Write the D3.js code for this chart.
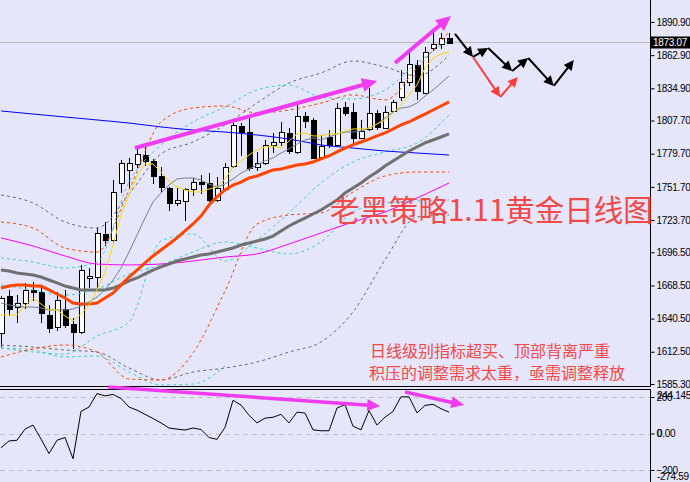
<!DOCTYPE html>
<html>
<head>
<meta charset="utf-8">
<script src="https://d3js.org/d3.v7.min.js"></script>
<style>
  html, body { margin: 0; padding: 0; background: #e6e6fa; overflow: hidden; }
  svg { display: block; }
  .axis text { font-family: "Liberation Sans", Arial, sans-serif; font-size: 10px; fill: #000; letter-spacing: -0.3px; }
  .axis line { stroke: #000; }
  .axis path { display: none; }
</style>
</head>
<body>
<div id="chart"></div>
<script>
// daily candles (gold), oldest first
const open  = [1628.4,1659.6,1650.3,1653.7,1664.7,1663.0,1643.5,1633.4,1648.6,1636.0,1629.2,1674.8,1675.6,1711.9,1706.9,1755.0,1766.0,1771.0,1778.6,1773.6,1760.9,1750.8,1738.1,1739.8,1749.9,1755.8,1755.0,1740.6,1749.9,1769.3,1803.1,1798.0,1768.5,1771.9,1787.1,1789.6,1797.2,1781.2,1811.6,1808.2,1776.9,1793.8,1787.1,1819.2,1814.9,1793.0,1800.6,1814.1,1801.4,1815.8,1827.6,1840.3,1854.6,1831.0,1869.0,1872.3,1877.4];
const high  = [1659.6,1664.7,1660.4,1670.6,1671.4,1667.2,1652.0,1663.0,1664.7,1641.0,1685.8,1683.2,1717.0,1722.1,1757.5,1774.4,1776.1,1785.4,1785.4,1775.3,1768.5,1751.6,1750.8,1751.0,1759.2,1761.7,1763.4,1760.1,1771.9,1805.6,1805.6,1810.7,1781.2,1791.3,1797.2,1806.5,1801.4,1822.5,1814.9,1809.9,1795.5,1799.7,1822.5,1823.4,1822.5,1808.2,1835.2,1816.6,1820.0,1825.1,1850.4,1865.6,1858.8,1869.8,1882.5,1881.6,1881.6];
const low   = [1617.4,1643.5,1637.6,1649.5,1656.2,1637.6,1629.2,1630.9,1633.4,1615.7,1628.4,1667.2,1667.2,1702.6,1705.5,1747.4,1751.6,1768.5,1770.2,1755.0,1747.4,1732.2,1736.4,1723.8,1744.9,1746.5,1740.0,1739.8,1749.0,1768.5,1778.6,1766.0,1766.0,1771.0,1781.2,1787.1,1780.3,1780.5,1802.3,1776.1,1776.9,1785.4,1787.1,1812.4,1787.1,1793.0,1799.7,1800.6,1801.4,1814.9,1825.1,1837.7,1825.9,1831.0,1867.3,1869.0,1873.07];
const close = [1657.9,1648.6,1653.7,1664.7,1663.0,1645.2,1632.6,1656.2,1635.1,1629.2,1681.5,1676.5,1712.8,1706.9,1747.4,1771.9,1771.9,1779.5,1773.6,1760.9,1751.6,1738.1,1740.6,1749.9,1755.8,1754.1,1740.6,1750.8,1768.5,1804.0,1798.0,1767.7,1771.9,1787.1,1789.6,1798.0,1782.0,1811.6,1807.3,1776.1,1786.2,1787.1,1818.3,1814.1,1793.0,1798.9,1814.1,1802.3,1814.9,1823.4,1840.3,1855.5,1832.7,1865.6,1872.3,1877.4,1873.07];
const lastPrice = 1873.07;

// moving averages, one value per candle
const ma5  = [1643.6,1643.6,1643.6,1651.1,1657.9,1652.8,1647.8,1647.8,1642.7,1638.5,1644.4,1652.0,1664.7,1679.9,1702.6,1728.0,1744.9,1760.9,1771.0,1771.0,1764.3,1756.7,1751.6,1749.1,1747.4,1747.4,1749.9,1751.6,1758.4,1768.5,1773.6,1778.6,1782.9,1785.4,1786.2,1784.5,1790.4,1796.4,1797.2,1794.7,1794.7,1796.4,1796.4,1798.9,1800.6,1800.6,1801.4,1804.8,1808.2,1814.1,1820.8,1829.3,1837.7,1852.1,1860.5,1863.9,1865.6];
const ma10 = [1653.7,1652.0,1651.1,1650.3,1650.3,1649.5,1647.8,1647.8,1647.8,1648.6,1651.1,1654.5,1658.7,1664.7,1673.1,1683.2,1696.7,1711.1,1725.4,1739.0,1746.5,1753.3,1758.4,1759.2,1759.2,1757.5,1754.1,1751.6,1754.1,1758.4,1763.4,1766.8,1770.2,1773.6,1776.1,1780.3,1783.7,1787.9,1791.3,1793.0,1791.3,1793.8,1796.4,1798.0,1798.0,1798.9,1801.4,1804.8,1809.9,1814.9,1818.3,1819.2,1822.5,1828.4,1833.5,1839.4,1845.3];
const ma20 = [1666.3,1668.0,1668.9,1668.9,1668.0,1668.0,1664.7,1661.3,1657.9,1653.7,1652.8,1652.8,1653.7,1657.9,1662.1,1668.9,1675.6,1681.5,1687.5,1693.4,1698.4,1703.5,1708.6,1714.5,1720.4,1727.1,1736.4,1743.2,1749.1,1753.3,1755.8,1759.2,1760.9,1763.4,1766.0,1766.8,1768.5,1770.2,1771.0,1772.7,1775.3,1777.8,1781.2,1784.5,1787.1,1789.6,1792.1,1794.7,1797.2,1800.6,1804.0,1806.5,1809.9,1813.2,1816.6,1820.0,1823.4];
const ma60 = [1681.5,1680.7,1679.0,1678.2,1677.3,1675.6,1673.1,1670.6,1668.0,1666.3,1664.7,1664.7,1664.7,1664.7,1666.3,1668.9,1672.3,1674.8,1678.2,1681.5,1684.1,1686.6,1689.1,1690.8,1692.5,1694.2,1695.1,1696.7,1698.4,1700.1,1702.6,1704.3,1706.0,1707.7,1710.2,1714.5,1718.7,1722.1,1725.4,1728.8,1732.2,1736.4,1740.6,1746.5,1750.8,1755.0,1760.1,1764.3,1769.3,1773.6,1777.8,1782.0,1785.4,1788.8,1791.3,1793.8,1796.4];

// smoother lines, read every 4th candle
const sparseIdx = d3.range(0, 57, 4);
const ma120   = [1708.6,1701.8,1693.4,1686.6,1685.8,1686.6,1689.1,1692.5,1695.1,1703.5,1712.8,1722.1,1730.5,1742.3,1755.0];
const ma200   = [1815.8,1813.2,1810.7,1808.2,1805.6,1802.3,1799.7,1798.0,1795.5,1792.1,1787.1,1784.5,1782.0,1780.3,1778.6];
const bbOrUp  = [1722.1,1717.0,1700.1,1696.7,1749.1,1806.5,1818.3,1820.0,1814.1,1816.6,1822.5,1829.3,1825.1,1852.1,1882.5];
const bbOrLo  = [1608.1,1614.9,1618.2,1612.3,1589.5,1588.7,1611.5,1663.8,1720.4,1728.0,1729.7,1747.4,1760.9,1764.3,1764.3];
const bbCyUp  = [1691.7,1688.3,1683.2,1688.3,1755.8,1787.1,1806.5,1819.2,1833.5,1837.7,1827.6,1825.9,1833.5,1856.3,1875.7];
const bbCyLo  = [1615.7,1612.3,1610.6,1625.8,1637.6,1706.0,1711.9,1689.1,1706.9,1729.7,1755.0,1772.7,1781.2,1788.8,1812.4];
const bbGrUp  = [1744.9,1738.1,1722.1,1717.0,1745.7,1779.5,1789.6,1804.0,1822.5,1839.4,1847.9,1858.0,1852.9,1845.3,1863.1];
const bbGrLo  = [1618.2,1616.5,1614.0,1612.3,1598.8,1588.7,1595.4,1598.8,1603.9,1612.3,1620.8,1646.1,1690.0,1726.3,1728.0];
const cyanMid = [1668.9,1664.7,1660.4,1665.5,1678.2,1685.8,1696.7,1705.2,1700.1,1695.1,1705.2,1730.5,1738.1,1739.8,1740.6];
const cyanOut = [1615.7,1614.0,1608.1,1608.9,1595.4,1584.5,1585.3,1600.5,null,null,null,null,null,null,null];

// oscillator in the lower window
const cci = [-78,-41,-37,24,46,-30,-110,-37,-22,-138,121,145,219,206,214,192,145,128,105,82,58,30,24,19,30,22,-22,-32,33,182,156,100,58,84,89,105,58,117,112,20,15,15,140,158,40,20,126,46,89,121,201,201,113,154,160,136,117];

const priceTicks = [1890.9,1862.9,1834.9,1807.7,1779.7,1751.7,1723.7,1696.5,1668.5,1640.5,1612.5,1585.3];
const cciTicks = [200, 0, -200];

// hand drawn notes: [candle index, price or cci value]
const trendArrows = [[[16.75,1784.5],[47,1841.1]], [[49.25,1856.3],[56.25,1896.0]]];
const pathBlack = [[56.75,1880.8],[59,1861.4],[60.9,1869.0],[63.9,1849.5],[65.9,1860.5],[69.1,1836.9],[71.6,1858.8]];
const pathRed = [[59,1861.4],[62.4,1827.6],[64.6,1844.5]];
const cciArrows = [[[13.4,255],[47.4,151]], [[50.5,227],[57.9,156]]];

const title = "老黑策略1.11黄金日线图";
const note1 = "日线级别指标超买、顶部背离严重";
const note2 = "积压的调整需求太重，亟需调整释放";

const W = 690, H = 482, plotR = 650;

const svg = d3.select('#chart').append('svg')
    .attr('width', W).attr('height', H);
svg.append('rect').attr('width', W).attr('height', H).attr('fill', '#e6e6fa');

const x = d3.scaleLinear().domain([0, 81]).range([1, 649]);
const y = d3.scaleLinear().domain([1585.3, 1890.9]).range([384, 22]);
const yc = d3.scaleLinear().domain([-200, 200]).range([470, 397]);

const defs = svg.append('defs');
defs.append('clipPath').attr('id', 'clipMain')
    .append('rect').attr('x', 0).attr('y', 0).attr('width', plotR).attr('height', 386);
defs.append('clipPath').attr('id', 'clipInd')
    .append('rect').attr('x', 0).attr('y', 390).attr('width', plotR).attr('height', 92);

// current price line
svg.append('line')
    .attr('x1', 0).attr('x2', plotR)
    .attr('y1', Math.round(y(lastPrice)) - 0.5).attr('y2', Math.round(y(lastPrice)) - 0.5)
    .attr('stroke', '#b8b8b8');

const main = svg.append('g').attr('clip-path', 'url(#clipMain)');

// candles
const candles = main.append('g');
close.forEach((c, i) => {
    const o = open[i];
    const cx = x(i);
    candles.append('line')
        .attr('x1', cx + 0.5).attr('x2', cx + 0.5)
        .attr('y1', Math.round(y(high[i]))).attr('y2', Math.round(y(low[i])) + 1)
        .attr('stroke', '#000');
    const top = Math.round(y(Math.max(o, c)));
    const bot = Math.round(y(Math.min(o, c)));
    candles.append('rect')
        .attr('x', cx - 1.5).attr('width', 5)
        .attr('y', top + 0.5).attr('height', Math.max(1, bot - top))
        .attr('fill', c >= o ? '#fff' : '#000')
        .attr('stroke', '#000');
});

const lineFull = d3.line().x((d, i) => x(i)).y(d => y(d));
const lineSparse = d3.line()
    .defined(d => d != null)
    .x((d, i) => x(sparseIdx[i])).y(d => y(d))
    .curve(d3.curveMonotoneX);

function dashed(arr, color) {
    main.append('path').datum(arr)
        .attr('d', lineSparse)
        .attr('fill', 'none').attr('stroke', color)
        .attr('stroke-width', 1).attr('stroke-dasharray', '3,3');
}
dashed(bbGrUp, '#6a6a6a');
dashed(bbGrLo, '#6a6a6a');
dashed(bbCyUp, '#40d0c8');
dashed(bbCyLo, '#40d0c8');
dashed(cyanMid, '#40d0c8');
dashed(cyanOut, '#40d0c8');
dashed(bbOrUp, '#ff4500');
dashed(bbOrLo, '#ff4500');

function solidSparse(arr, color, w) {
    main.append('path').datum(arr)
        .attr('d', lineSparse)
        .attr('fill', 'none').attr('stroke', color).attr('stroke-width', w);
}
solidSparse(ma200, '#0000ff', 1);
solidSparse(ma120, '#ff00ff', 1);

function solid(arr, color, w) {
    main.append('path').datum(arr)
        .attr('d', lineFull)
        .attr('fill', 'none').attr('stroke', color).attr('stroke-width', w);
}
solid(ma60, '#707070', 3);
solid(ma20, '#ff4500', 3);
solid(ma10, '#708090', 1);
solid(ma5, '#ffd700', 1);

// lower window
svg.append('g').selectAll('line.grid')
    .data(cciTicks).enter().append('line')
    .attr('x1', 0).attr('x2', plotR)
    .attr('y1', d => Math.round(yc(d)) + 0.5).attr('y2', d => Math.round(yc(d)) + 0.5)
    .attr('stroke', '#c0c0c0').attr('stroke-dasharray', '5,4');

svg.append('g').attr('clip-path', 'url(#clipInd)')
    .append('path').datum(cci)
    .attr('d', d3.line().x((d, i) => x(i)).y(d => yc(d)))
    .attr('fill', 'none').attr('stroke', '#000').attr('stroke-width', 1);

// window borders
svg.append('line').attr('x1', 0).attr('x2', plotR).attr('y1', 386.5).attr('y2', 386.5).attr('stroke', '#000');
svg.append('line').attr('x1', 0).attr('x2', plotR).attr('y1', 389.5).attr('y2', 389.5).attr('stroke', '#000');
svg.append('line').attr('x1', plotR + 0.5).attr('x2', plotR + 0.5).attr('y1', 0).attr('y2', 387).attr('stroke', '#000');
svg.append('line').attr('x1', plotR + 0.5).attr('x2', plotR + 0.5).attr('y1', 389).attr('y2', H).attr('stroke', '#000');

// axes
const fmt = d3.format('.2f');
svg.append('g').attr('class', 'axis')
    .attr('transform', `translate(${plotR + 0.5},0)`)
    .call(d3.axisRight(y).tickValues(priceTicks).tickFormat(fmt).tickSize(4).tickPadding(2));

svg.append('g').attr('class', 'axis')
    .attr('transform', `translate(${plotR + 0.5},0)`)
    .call(d3.axisRight(yc).tickValues(cciTicks).tickFormat(d3.format('d')).tickSize(4).tickPadding(2));

const extra = svg.append('g').attr('class', 'axis');
extra.append('text').attr('x', 657).attr('y', yc(200) - 1).attr('dy', '0.32em').text('244.1452');
extra.append('text').attr('x', 657).attr('y', yc(0)).attr('dy', '0.32em').text('0.00');
extra.append('text').attr('x', 657).attr('y', yc(-200) + 7).attr('dy', '0.32em').text('-274.59');

// last price tag
const py = Math.round(y(lastPrice)) - 0.5;
svg.append('rect').attr('x', 651).attr('y', py - 6).attr('width', 39).attr('height', 12).attr('fill', '#000');
svg.append('text').attr('x', 653).attr('y', py).attr('dy', '0.35em')
    .attr('font-family', '"Liberation Sans", Arial, sans-serif').attr('font-size', 10)
    .attr('letter-spacing', '-0.3px').attr('fill', '#fff')
    .text(fmt(lastPrice));

// annotations
const notes = svg.append('g');
function arrow(p1, p2, color, w, hl, hw) {
    const dx = p2[0] - p1[0], dy = p2[1] - p1[1];
    const len = Math.hypot(dx, dy);
    const ux = dx / len, uy = dy / len;
    const bx = p2[0] - ux * hl, by = p2[1] - uy * hl;
    notes.append('line')
        .attr('x1', p1[0]).attr('y1', p1[1])
        .attr('x2', bx + ux * 2).attr('y2', by + uy * 2)
        .attr('stroke', color).attr('stroke-width', w);
    notes.append('path')
        .attr('d', `M${p2[0]},${p2[1]}L${bx - uy * hw},${by + ux * hw}L${bx + uy * hw},${by - ux * hw}Z`)
        .attr('fill', color);
}
const pt = d => [x(d[0]), y(d[1])];
const ptc = d => [x(d[0]), yc(d[1])];

trendArrows.forEach(a => arrow(pt(a[0]), pt(a[1]), '#f03cf0', 4, 15, 7));
cciArrows.forEach(a => arrow(ptc(a[0]), ptc(a[1]), '#f03cf0', 3.5, 13, 6));
d3.pairs(pathBlack).forEach(p => arrow(pt(p[0]), pt(p[1]), '#000', 2, 10, 5));
d3.pairs(pathRed).forEach(p => arrow(pt(p[0]), pt(p[1]), '#ff3c3c', 2, 10, 5));

const cjk = '"Noto Sans CJK SC", "Noto Sans", sans-serif';
notes.append('text').attr('x', 330).attr('y', 221)
    .attr('font-family', cjk).attr('font-size', 29.5)
    .attr('fill', '#f24848').text(title);
notes.append('text').attr('x', 370).attr('y', 357)
    .attr('font-family', cjk).attr('font-size', 16)
    .attr('fill', '#f24848').text(note1);
notes.append('text').attr('x', 369).attr('y', 379)
    .attr('font-family', cjk).attr('font-size', 16)
    .attr('fill', '#f24848').text(note2);
</script>
</body>
</html>
